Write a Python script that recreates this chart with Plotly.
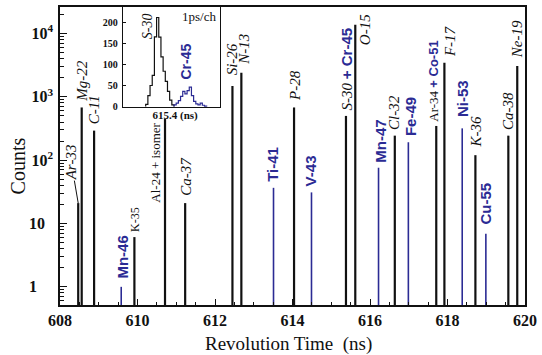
import math
import plotly.graph_objects as go

# ---------------- data ----------------
BLACK_IONS = ["Ar-33", "Mg-22", "C-11", "K-35", "Al-24 + isomer", "Ca-37", "Si-26", "N-13",
              "P-28", "S-30 + Cr-45", "O-15", "Cl-32", "Ar-34 + Co-51", "F-17", "K-36",
              "Ca-38", "Ne-19"]
BLACK_TIMES = [608.47, 608.56, 608.88, 609.92, 610.71, 611.23, 612.45, 612.68,
               614.04, 615.38, 615.62, 616.64, 617.71, 617.92, 618.72, 619.57, 619.80]
BLACK_COUNTS = [21, 680, 293, 6.1, 452, 21, 1490, 2400,
                680, 500, 13700, 244, 347, 3460, 120, 244, 3070]

BLUE_IONS = ["Mn-46", "Ti-41", "V-43", "Mn-47", "Fe-49", "Ni-53", "Cu-55"]
BLUE_TIMES = [609.58, 613.51, 614.49, 616.22, 616.99, 618.38, 618.99]
BLUE_COUNTS = [1.0, 36.6, 31, 76, 192, 318, 6.9]

# inset: 1 ps per channel
S30_FIRST_BIN_NS = 615.3865
S30_HIST = [5, 26, 50, 74, 166, 212, 165, 118, 84, 60, 36, 15, 4]
CR45_FIRST_BIN_NS = 615.3995
CR45_HIST = [4, 8, 14, 24, 36, 30, 38, 46, 26, 12, 6, 4, 8, 3, 1]
BIN_NS = 0.001

X_TICKS = [608, 610, 612, 614, 616, 618, 620]
Y_TICKS = [1, 10, 100, 1000, 10000]
Y_TICKTEXT = ["1\u00a0\u00a0\u00a0\u00a0", "10\u00a0\u00a0", "10<sup>2</sup>", "10<sup>3</sup>", "10<sup>4</sup>"]
INSET_YTICKS = [0, 50, 100, 150, 200]

# ---------------- styles ----------------
BLUE = "#2b2b94"
BLACK = "#111111"
SERIF = "Liberation Serif, Times New Roman, serif"
SANS = "Liberation Sans, Arial, sans-serif"

W, H = 542, 355
ML, MR, MT, MB = 60, 12, 5, 50
PW, PH = W - ML - MR, H - MT - MB


def px_to_paper(px, py):
    return (px - ML) / PW, (MT + PH - py) / PH


def stems(times, counts):
    xs, ys = [], []
    for t, c in zip(times, counts):
        xs += [t, t, None]
        ys += [0.1, c, None]
    return xs, ys


def step_hist(first, counts):
    edges = [first + i * BIN_NS for i in range(len(counts) + 1)]
    xs = [edges[0]] + edges[:-1] + [edges[-1]]
    ys = [0] + list(counts) + [0]
    return xs, ys


fig = go.Figure()
bx, by = stems(BLACK_TIMES, BLACK_COUNTS)
fig.add_trace(go.Scatter(x=bx, y=by, mode="lines", line=dict(color=BLACK, width=2.2),
                         hoverinfo="skip", showlegend=False))
ux, uy = stems(BLUE_TIMES, BLUE_COUNTS)
fig.add_trace(go.Scatter(x=ux, y=uy, mode="lines", line=dict(color=BLUE, width=1.6),
                         hoverinfo="skip", showlegend=False))

sx, sy = step_hist(S30_FIRST_BIN_NS, S30_HIST)
fig.add_trace(go.Scatter(x=sx, y=sy, mode="lines", line=dict(color=BLACK, width=1.2, shape="hv"),
                         xaxis="x2", yaxis="y2", hoverinfo="skip", showlegend=False))
cx, cy = step_hist(CR45_FIRST_BIN_NS, CR45_HIST)
fig.add_trace(go.Scatter(x=cx, y=cy, mode="lines", line=dict(color=BLUE, width=1.2, shape="hv"),
                         xaxis="x2", yaxis="y2", hoverinfo="skip", showlegend=False))

# ---------------- labels ----------------
ITALIC = dict(family=SERIF, size=15, color=BLACK, style="italic")
UPRIGHT = dict(family=SERIF, size=13, color=BLACK)
SMALLUP = dict(family=SERIF, size=12, color=BLACK)
BLUEB = dict(family=SANS, size=15, color=BLUE, weight="bold")

blue_span = "<span style='font-family:Liberation Sans, Arial;color:%s;font-weight:bold;font-style:normal'>" % BLUE

label_style = {
    "Ar-33": (ITALIC, 0, 0), "Mg-22": (ITALIC, 0, 5), "C-11": (ITALIC, 0, 5),
    "K-35": (SMALLUP, 0, 4), "Al-24 + isomer": (UPRIGHT, -9, None), "Ca-37": (ITALIC, 0, 6),
    "Si-26": (ITALIC, -1, 10), "N-13": (ITALIC, 3, 7), "P-28": (ITALIC, 1, 5),
    "S-30 + Cr-45": (ITALIC, 0, 5), "O-15": (ITALIC, 10, None), "Cl-32": (ITALIC, -1, 5),
    "Ar-34 + Co-51": (UPRIGHT, -3, 3), "F-17": (ITALIC, 5, 5), "K-36": (ITALIC, 1, 7),
    "Ca-38": (ITALIC, -1, 5), "Ne-19": (ITALIC, 0, 7),
    "Mn-46": (BLUEB, 1, 7), "Ti-41": (BLUEB, -1, 5), "V-43": (BLUEB, -1, 5),
    "Mn-47": (BLUEB, 2, 4), "Fe-49": (BLUEB, 2, 5), "Ni-53": (BLUEB, 1, 10), "Cu-55": (BLUEB, 0, 8),
}

annotations = []


def label_text(name):
    if name == "S-30 + Cr-45":
        return "S-30 " + blue_span + "+ Cr-45</span>"
    if name == "Ar-34 + Co-51":
        return "Ar-34 " + blue_span + "+ Co-51</span>"
    return name


for names, times, counts in ((BLACK_IONS, BLACK_TIMES, BLACK_COUNTS),
                             (BLUE_IONS, BLUE_TIMES, BLUE_COUNTS)):
    for name, t, c in zip(names, times, counts):
        font, dx, gap = label_style[name]
        a = dict(x=t, y=math.log10(c), xref="x", yref="y", text=label_text(name),
                 textangle=-90, font=font, borderpad=0, xshift=dx)
        if name == "Ar-33":
            a.update(showarrow=True, arrowhead=0, arrowwidth=1, arrowcolor=BLACK,
                     ax=-7, ay=-41, standoff=0, xshift=0)
        elif name == "Al-24 + isomer":
            a.update(showarrow=False, xanchor="center", yanchor="middle", yshift=-44)
        elif name == "O-15":
            a.update(showarrow=False, xanchor="center", yanchor="middle", yshift=-5)
        else:
            a.update(showarrow=False, xanchor="center", yanchor="bottom", yshift=gap)
        annotations.append(a)

# axis titles
xp, yp = px_to_paper(17, 165)
annotations.append(dict(x=xp, y=yp, xref="paper", yref="paper", text="Counts", textangle=-90,
                        showarrow=False, font=dict(family=SERIF, size=20, color=BLACK),
                        xanchor="center", yanchor="middle"))
xp, yp = px_to_paper(290.5, 344)
annotations.append(dict(x=xp, y=yp, xref="paper", yref="paper", text="Revolution Time  (ns)",
                        showarrow=False, font=dict(family=SERIF, size=19, color=BLACK),
                        xanchor="center", yanchor="middle"))
# inset labels
xp, yp = px_to_paper(149.3, 24)
annotations.append(dict(x=xp, y=yp, xref="paper", yref="paper", text="S-30", textangle=-90,
                        showarrow=False, font=dict(family=SERIF, size=14, color=BLACK, style="italic"),
                        xanchor="center", yanchor="middle"))
xp, yp = px_to_paper(187.3, 60)
annotations.append(dict(x=xp, y=yp, xref="paper", yref="paper", text="Cr-45", textangle=-90,
                        showarrow=False, font=dict(family=SANS, size=14, color=BLUE, weight="bold"),
                        xanchor="center", yanchor="middle"))
xp, yp = px_to_paper(200.5, 15)
annotations.append(dict(x=xp, y=yp, xref="paper", yref="paper", text="1ps/ch",
                        showarrow=False, font=dict(family=SERIF, size=13, color=BLACK),
                        xanchor="center", yanchor="middle"))

minor_y = [m * 10 ** d for d in range(-1, 5) for m in range(2, 10)]

ix0, iy0 = px_to_paper(123.5, 106)
ix1, _ = px_to_paper(221.7, 5)

fig.update_layout(
    width=W, height=H,
    margin=dict(l=ML, r=MR, t=MT, b=MB),
    paper_bgcolor="white", plot_bgcolor="white",
    showlegend=False,
    annotations=annotations,
    xaxis=dict(range=[608, 620], domain=[0, 1], tickvals=X_TICKS, ticks="inside", ticklen=6,
               tickwidth=1.2, tickcolor=BLACK, showline=True, linecolor=BLACK, linewidth=1.6,
               mirror=True, showgrid=False, zeroline=False,
               tickfont=dict(family=SERIF, size=16, color=BLACK, weight="bold"),
               ticklabelstandoff=0,
               minor=dict(dtick=0.5, ticks="inside", ticklen=3, tickcolor=BLACK, showgrid=False)),
    yaxis=dict(type="log", range=[-0.287, 4.419], domain=[0, 1], tickvals=Y_TICKS,
               ticktext=Y_TICKTEXT, ticks="inside", ticklen=7, tickwidth=1.2, tickcolor=BLACK,
               showline=True, linecolor=BLACK, linewidth=1.6, mirror=True, showgrid=False,
               zeroline=False,
               tickfont=dict(family=SERIF, size=16, color=BLACK, weight="bold"),
               ticklabelstandoff=2,
               minor=dict(tickmode="array", tickvals=minor_y, ticks="inside", ticklen=4,
                          tickcolor=BLACK, showgrid=False)),
    xaxis2=dict(domain=[ix0, ix1], anchor="y2", range=[615.376, 615.4206],
                tickvals=[615.4], ticktext=["615.4 (ns)"], ticks="", showline=True,
                linecolor=BLACK, linewidth=1, mirror=True, showgrid=False, zeroline=False,
                tickfont=dict(family=SERIF, size=11, color=BLACK, weight="bold"),
                ticklabelstandoff=-3),
    yaxis2=dict(domain=[iy0, 1], anchor="x2", range=[-2, 237], tickvals=INSET_YTICKS,
                ticks="inside", ticklen=3, tickcolor=BLACK, showline=True, linecolor=BLACK,
                linewidth=1, mirror=True, showgrid=False, zeroline=False,
                tickfont=dict(family=SERIF, size=10, color=BLACK, weight="bold"),
                ticklabelstandoff=2),
)

fig.write_html("out.html", config={"displayModeBar": False},
               post_script="document.body.style.margin='0';document.body.style.padding='0';")
